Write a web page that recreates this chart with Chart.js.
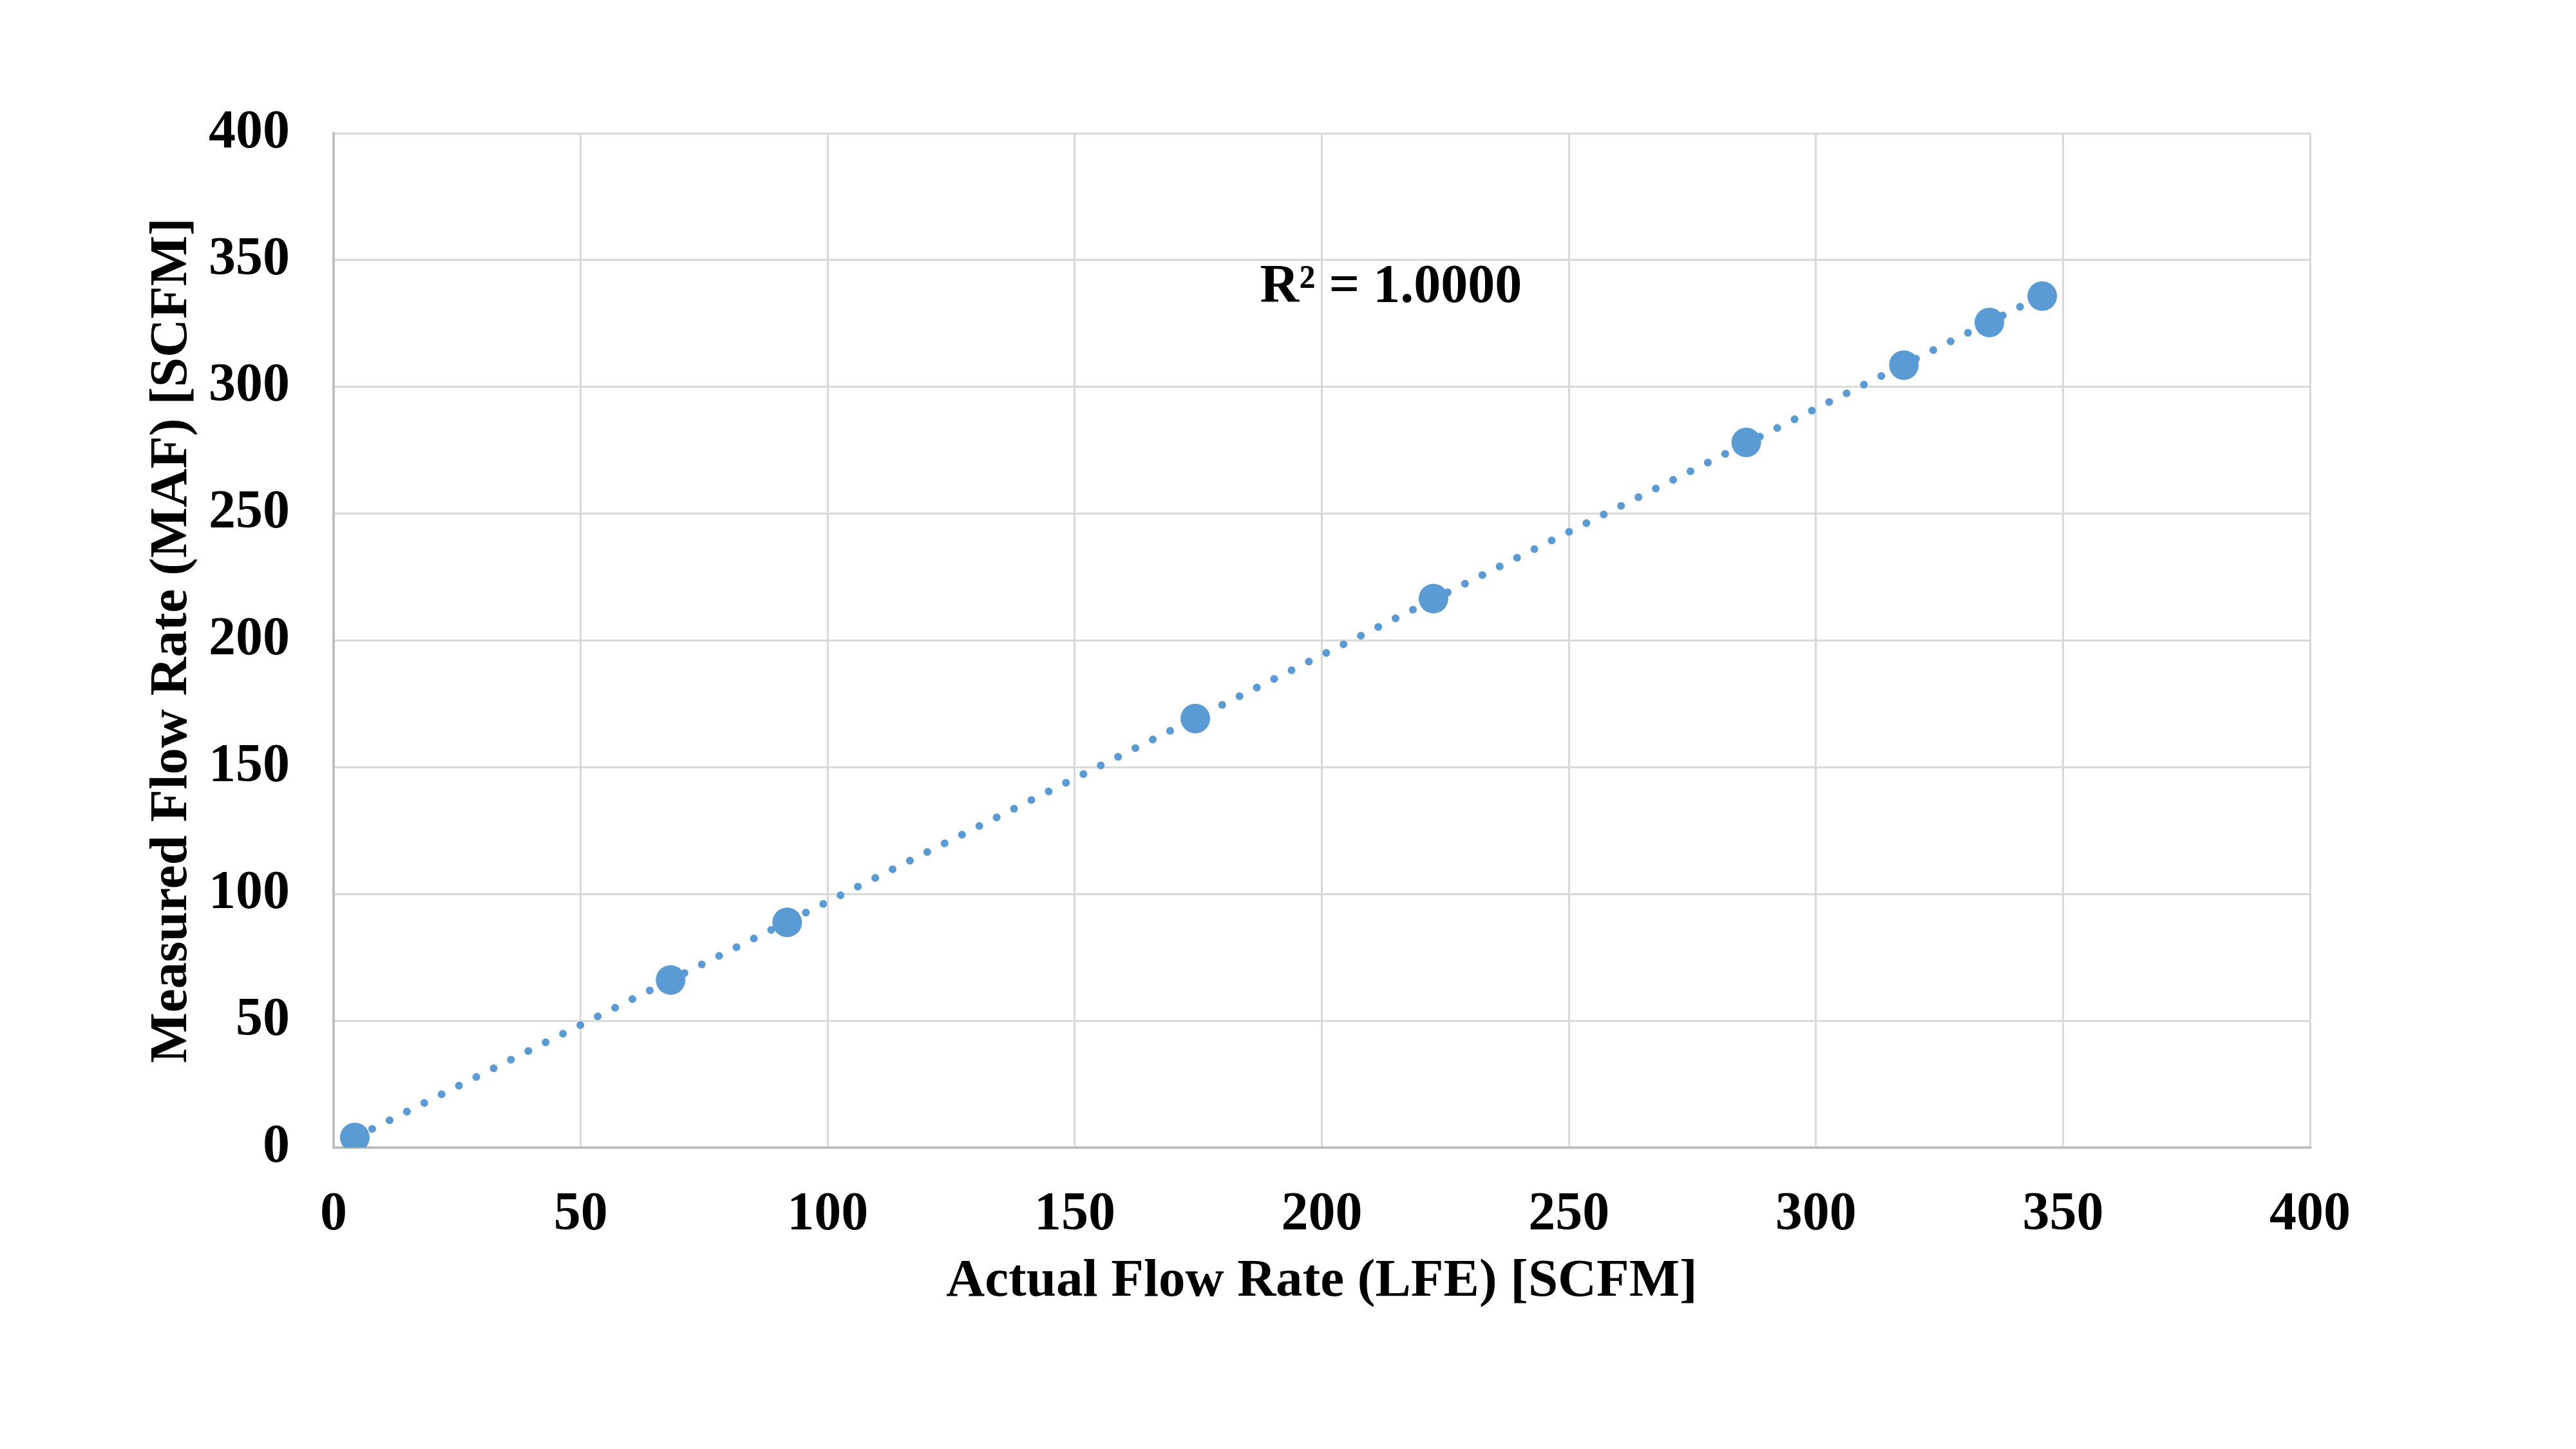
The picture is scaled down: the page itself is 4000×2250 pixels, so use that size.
<!DOCTYPE html>
<html>
<head>
<meta charset="utf-8">
<script src="https://cdn.jsdelivr.net/npm/chart.js@4"></script>
<style>
  html, body { margin: 0; padding: 0; background: white; }
  #wrap { width: 4000px; height: 2250px; }
</style>
</head>
<body>
<div id="wrap"><canvas id="flowChart" width="4000" height="2250"></canvas></div>
<script>
// readings
var actualFlow = [4.3, 68.2, 91.8, 174.4, 222.6, 285.9, 317.8, 335.1, 345.8];
var measuredFlow = [4.0, 66.1, 88.8, 169.2, 216.5, 278.1, 308.6, 325.4, 335.8];
var tickValues = [0, 50, 100, 150, 200, 250, 300, 350, 400];
var xTitle = "Actual Flow Rate (LFE) [SCFM]";
var yTitle = "Measured Flow Rate (MAF) [SCFM]";
var r2Label = "R\u00B2 = 1.0000";
var r2Pos = {x: 214, y: 339};

var blue = "#5B9BD5";
var font = "'Liberation Serif', 'Times New Roman', serif";

// least squares trend line through the points
function linearFit(xs, ys) {
    var n = xs.length, sx = 0, sy = 0, sxx = 0, sxy = 0;
    for (var i = 0; i < n; i++) {
        sx += xs[i]; sy += ys[i];
        sxx += xs[i] * xs[i]; sxy += xs[i] * ys[i];
    }
    var m = (n * sxy - sx * sy) / (n * sxx - sx * sx);
    var b = (sy - m * sx) / n;
    return {m: m, b: b};
}

var fit = linearFit(actualFlow, measuredFlow);
var xMin = Math.min.apply(null, actualFlow);
var xMax = Math.max.apply(null, actualFlow);
var trend = [
    {x: xMin, y: fit.m * xMin + fit.b},
    {x: xMax, y: fit.m * xMax + fit.b}
];

var points = [];
for (var i = 0; i < actualFlow.length; i++) {
    points.push({x: actualFlow[i], y: measuredFlow[i]});
}

// R² text and the y title
var annotations = {
    id: "annotations",
    afterDraw: function(chart) {
        var ctx = chart.ctx;
        var xs = chart.scales.x, ys = chart.scales.y;
        ctx.save();
        ctx.fillStyle = "black";
        ctx.font = "bold 84px " + font;
        ctx.textAlign = "center";
        ctx.textBaseline = "middle";
        ctx.fillText(r2Label, xs.getPixelForValue(r2Pos.x), ys.getPixelForValue(r2Pos.y));

        ctx.font = "bold 83px " + font;
        ctx.translate(268, (ys.top + ys.bottom) / 2);
        ctx.rotate(-Math.PI / 2);
        ctx.fillText(yTitle, 0, 0);
        ctx.restore();
    }
};

var ctx = document.getElementById("flowChart").getContext("2d");
var chart = new Chart(ctx, {
    type: "scatter",
    data: {
        datasets: [{
            label: "trend",
            type: "line",
            data: trend,
            borderColor: blue,
            borderWidth: 12,
            borderDash: [0.1, 30],
            borderCapStyle: "round",
            pointRadius: 0,
            fill: false
        }, {
            label: "data",
            data: points,
            backgroundColor: blue,
            borderColor: blue,
            pointRadius: 23,
            pointHoverRadius: 23,
            borderWidth: 0
        }]
    },
    options: {
        responsive: false,
        animation: false,
        events: [],
        layout: {padding: {left: 0, right: 413, top: 207, bottom: 188}},
        plugins: {legend: {display: false}, tooltip: {enabled: false}},
        scales: {
            x: {
                type: "linear",
                min: 0, max: 400,
                afterBuildTicks: function(s) { s.ticks = tickValues.map(function(v) { return {value: v}; }); },
                afterFit: function(s) { s.height = 280; },
                grid: {color: "#D9D9D9", lineWidth: 3, drawTicks: false},
                border: {color: "#BFBFBF", width: 4},
                ticks: {color: "black", padding: 55, font: {family: font, size: 84, weight: "bold"}},
                title: {display: true, text: xTitle, color: "black", padding: {top: 4, bottom: 22},
                        font: {family: font, size: 83, weight: "bold"}}
            },
            y: {
                type: "linear",
                min: 0, max: 400,
                afterBuildTicks: function(s) { s.ticks = tickValues.map(function(v) { return {value: v}; }); },
                afterFit: function(s) { s.width = 518; },
                grid: {color: "#D9D9D9", lineWidth: 3, drawTicks: false},
                border: {color: "#BFBFBF", width: 4},
                ticks: {color: "black", padding: 68, font: {family: font, size: 84, weight: "bold"}}
            }
        }
    },
    plugins: [annotations]
});
</script>
</body>
</html>
